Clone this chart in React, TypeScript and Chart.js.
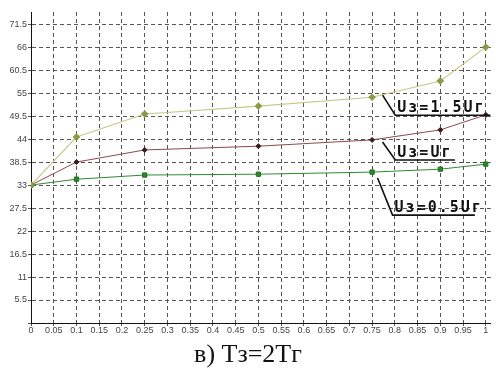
import React, { useEffect, useRef } from "react";
import { Chart, registerables } from "chart.js";

Chart.register(...registerables);

const xValues = [0, 0.1, 0.25, 0.5, 0.75, 0.9, 1.0];
const seriesHigh = [33, 44.5, 50.0, 51.9, 54.0, 57.9, 66.0]; // Uз=1.5Uг
const seriesMid = [33, 38.5, 41.4, 42.3, 43.8, 46.2, 49.8]; // Uз=Uг
const seriesLow = [33, 34.4, 35.4, 35.6, 36.1, 36.8, 38.0]; // Uз=0.5Uг

const labelHigh = "Uз=1.5Uг";
const labelMid = "Uз=Uг";
const labelLow = "Uз=0.5Uг";
const titleText = "в) Тз=2Тг";

// annotation leaders in data units: [x0, y0, x1, y1, underlineEndX]
const leaderHigh = [0.773, 54.5, 0.801, 49.7, 1.01];
const leaderMid = [0.773, 43.3, 0.801, 39.0, 0.932];
const leaderLow = [0.762, 34.7, 0.795, 25.8, 0.976];

const toPts = (ys: number[]) => xValues.map((x, i) => ({ x, y: ys[i] }));
const fmt = (v: number) => String(Number(Number(v).toFixed(2)));

const annotPlugin = {
  id: "annot",
  afterDatasetsDraw(chart: any) {
    const { ctx, scales } = chart;
    const sx = scales.x;
    const sy = scales.y;
    const items: [string, number[]][] = [
      [labelHigh, leaderHigh],
      [labelMid, leaderMid],
      [labelLow, leaderLow],
    ];
    ctx.save();
    for (const [txt, l] of items) {
      const x0 = sx.getPixelForValue(l[0]);
      const y0 = sy.getPixelForValue(l[1]);
      const x1 = sx.getPixelForValue(l[2]);
      const y1 = sy.getPixelForValue(l[3]);
      const x2 = sx.getPixelForValue(l[4]);
      ctx.strokeStyle = "#111";
      ctx.lineWidth = 1.6;
      ctx.setLineDash([]);
      ctx.beginPath();
      ctx.moveTo(x0, y0);
      ctx.lineTo(x1, y1);
      ctx.lineTo(x2, y1);
      ctx.stroke();
      ctx.fillStyle = "#111";
      ctx.font = "bold 15px 'DejaVu Sans Mono'";
      (ctx as any).letterSpacing = "2px";
      ctx.textAlign = "left";
      ctx.textBaseline = "alphabetic";
      ctx.fillText(txt, x1 + 2, y1 - 3);
    }
    (ctx as any).letterSpacing = "0px";
    ctx.font = "26px 'Liberation Serif'";
    ctx.fillStyle = "#111";
    ctx.textAlign = "center";
    ctx.fillText(titleText, 248, 362);
    ctx.restore();
  },
};

export default function App() {
  const ref = useRef<HTMLCanvasElement>(null);
  useEffect(() => {
    const chart = new Chart(ref.current!, {
      type: "line",
      data: {
        datasets: [
          {
            data: toPts(seriesHigh),
            borderColor: "#c8c88a",
            backgroundColor: "#8c9a45",
            pointBackgroundColor: "#8c9a45",
            pointBorderColor: "#8c9a45",
            pointStyle: "rectRot",
            pointRadius: 3,
            borderWidth: 1.2,
          },
          {
            data: toPts(seriesMid),
            borderColor: "#8c4a4a",
            backgroundColor: "#3a1c1c",
            pointBackgroundColor: "#3a1c1c",
            pointBorderColor: "#3a1c1c",
            pointStyle: "rectRot",
            pointRadius: 2.5,
            borderWidth: 1,
          },
          {
            data: toPts(seriesLow),
            borderColor: "#2e8b2e",
            backgroundColor: "#2a8a2a",
            pointBackgroundColor: "#2a8a2a",
            pointBorderColor: "#1f6f1f",
            pointStyle: "rect",
            pointRadius: 3,
            borderWidth: 1,
          },
        ],
      },
      options: {
        animation: false,
        responsive: false,
        layout: { padding: { top: 12, right: 2, left: 0, bottom: 0 } },
        plugins: { legend: { display: false }, tooltip: { enabled: false } },
        scales: {
          x: {
            type: "linear",
            min: 0,
            max: 1.011,
            afterFit: (s: any) => {
              s.height = 47;
            },
            ticks: {
              stepSize: 0.05,
              includeBounds: false,
              autoSkip: false,
              maxRotation: 0,
              padding: -1,
              color: "#444",
              font: { family: "'Liberation Sans'", size: 9 },
              callback: (v: any) => fmt(v),
            },
            grid: { color: "#555", lineWidth: 1, tickLength: 3 },
            border: { color: "#111", width: 1, dash: [4, 3] },
          },
          y: {
            type: "linear",
            min: 0,
            max: 74.4,
            afterFit: (s: any) => {
              s.width = 31;
            },
            ticks: {
              stepSize: 5.5,
              includeBounds: false,
              autoSkip: false,
              padding: 1,
              color: "#444",
              font: { family: "'Liberation Sans'", size: 9 },
              callback: (v: any) => (Number(v) === 0 ? "" : fmt(v)),
            },
            grid: { color: "#555", lineWidth: 1, tickLength: 3 },
            border: { color: "#111", width: 1, dash: [4, 3] },
          },
        },
      },
      plugins: [annotPlugin],
    } as any);
    return () => chart.destroy();
  }, []);
  return (
    <div style={{ position: "absolute", left: 0, top: 0, width: 496, height: 370, background: "#fff" }}>
      <canvas ref={ref} width={496} height={370} />
    </div>
  );
}
